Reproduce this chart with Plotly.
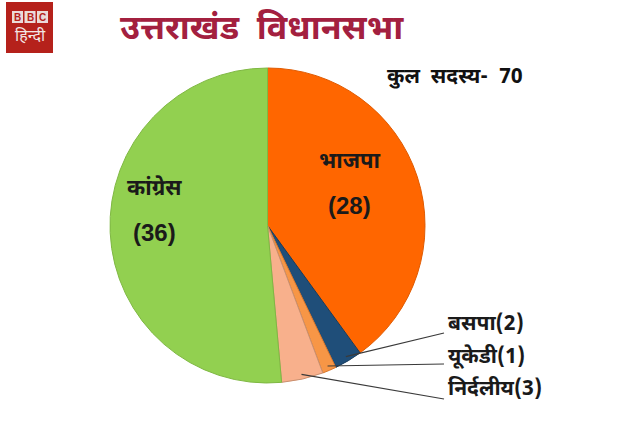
import math
import plotly.graph_objects as go

# ---- data ----
parties = ["भाजपा", "बसपा", "यूकेडी", "निर्दलीय", "कांग्रेस"]
seats = [28, 2, 1, 3, 36]
colors = ["#FF6600", "#1F4E79", "#F79646", "#F8B08C", "#92D050"]
edge_colors = ["#E05A00", "#173B5C", "#D9782E", "#C99070", "#7FB843"]
title_text = "उत्तराखंड  विधानसभा"
total_text = "कुल  सदस्य-  70"

W, H = 640, 431
cx, cy, r = 267.5, 225.5, 157.5  # pie centre / radius in px

dom_x = [(cx - r) / W, (cx + r) / W]
dom_y = [(H - cy - r) / H, (H - cy + r) / H]

FONT = "Noto Sans Devanagari, Lohit Devanagari, FreeSans, Noto Sans, sans-serif"
NUMFONT = "Liberation Sans, Arial, sans-serif"

fig = go.Figure(go.Pie(
    labels=parties,
    values=seats,
    sort=False,
    direction="clockwise",
    rotation=0,
    textinfo="none",
    hoverinfo="label+value",
    marker=dict(colors=colors, line=dict(color=edge_colors, width=1)),
    domain=dict(x=dom_x, y=dom_y),
    showlegend=False,
))

annotations = []
shapes = []

total = sum(seats)
cum = 0
mids = []
for v in seats:
    mids.append((cum + v / 2) / total * 360)
    cum += v


def px_to_paper(px, py):
    return px / W, 1 - py / H


def note(px, py, text, family, size, color, xanchor="center"):
    x, y = px_to_paper(px, py)
    annotations.append(dict(x=x, y=y, xref="paper", yref="paper", text=text,
                            xanchor=xanchor, yanchor="middle", showarrow=False,
                            font=dict(family=family, size=size, color=color)))


inside = {0: (349, 162, 205), 4: (154, 189, 232)}
for i, (lx, ly1, ly2) in inside.items():
    note(lx, ly1, "<b>%s</b>" % parties[i], FONT, 22, "#1a1a1a")
    note(lx, ly2, "<b>(%d)</b>" % seats[i], NUMFONT, 24, "#1a1a1a")

outside = {1: (325, 333), 2: (358, 364), 3: (390, 399)}
for i, (ty, ly) in outside.items():
    th = math.radians(mids[i])
    sx = cx + 0.97 * r * math.sin(th)
    sy = cy - 0.97 * r * math.cos(th)
    x0, y0 = px_to_paper(sx, sy)
    x1, y1 = px_to_paper(444, ly)
    shapes.append(dict(type="line", xref="paper", yref="paper", x0=x0, y0=y0, x1=x1, y1=y1,
                       line=dict(color="#3a3a3a", width=1.2)))
    note(446, ty, "<b>%s(%d)</b>" % (parties[i], seats[i]), FONT, 21, "#1a1a1a", xanchor="left")

# title
note(262, 31, "<b>%s</b>" % title_text, FONT, 34, "#A3203F")
note(455, 78, "<b>%s</b>" % total_text, FONT, 21, "#111111")

# BBC Hindi logo
lx0, ly0 = px_to_paper(6, 2)
lx1, ly1 = px_to_paper(53, 53)
shapes.append(dict(type="rect", xref="paper", yref="paper", x0=lx0, y0=ly1, x1=lx1, y1=ly0,
                   fillcolor="#B5211B", line=dict(width=0)))
for k, ch in enumerate("BBC"):
    bx = 12 + k * 12.5
    bx0, by0 = px_to_paper(bx, 11)
    bx1, by1 = px_to_paper(bx + 11, 23)
    shapes.append(dict(type="rect", xref="paper", yref="paper", x0=bx0, y0=by1, x1=bx1, y1=by0,
                       fillcolor="#EBDAD8", line=dict(width=0)))
    note(bx + 5.5, 17.5, "<b>%s</b>" % ch, NUMFONT, 10, "#B5211B")
note(30, 37, "हिन्दी", FONT, 16, "#F3E6E4")

fig.update_layout(
    width=W, height=H,
    margin=dict(l=0, r=0, t=0, b=0),
    paper_bgcolor="white",
    plot_bgcolor="white",
    annotations=annotations,
    shapes=shapes,
)

fig.write_html("out.html", config={"displayModeBar": False},
               post_script="document.body.style.margin='0px';")
